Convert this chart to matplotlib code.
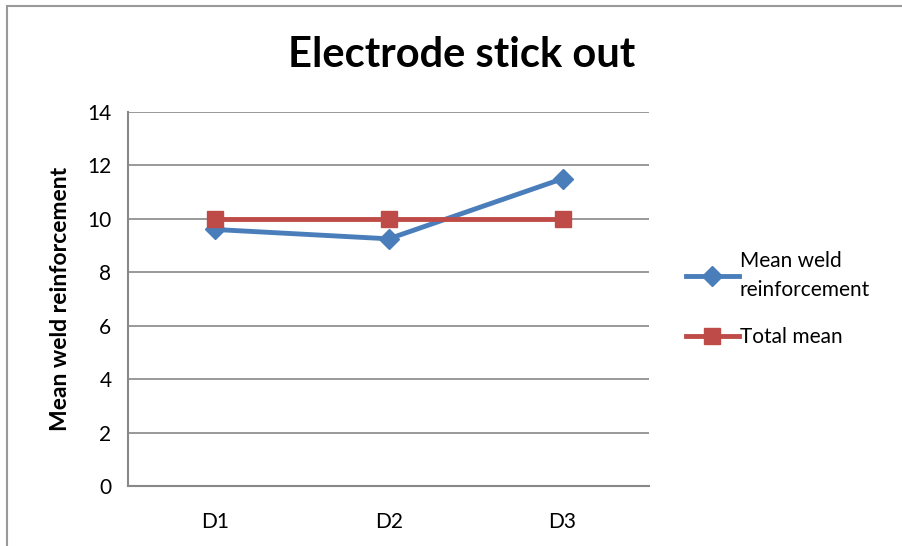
import matplotlib.pyplot as plt
from matplotlib.patches import Rectangle

plt.rcParams["font.family"] = ["Lato", "DejaVu Sans"]

categories = ["D1", "D2", "D3"]
mean_weld = [9.6, 9.25, 11.5]
total_mean = [10, 10, 10]
y_ticks = [0, 2, 4, 6, 8, 10, 12, 14]

blue = "#4a7ebb"
red = "#be4b48"
grid_gray = "#888888"

fig = plt.figure(figsize=(9.02, 5.46), dpi=100)
ax = fig.add_axes([0.142, 0.110, 0.578, 0.685])

x = list(range(len(categories)))
ax.plot(x, mean_weld, color=blue, lw=3.5, marker="D", ms=10,
        label="Mean weld\nreinforcement", zorder=3)
ax.plot(x, total_mean, color=red, lw=3.5, marker="s", ms=12,
        label="Total mean", zorder=3)

ax.set_xlim(-0.5, 2.5)
ax.set_ylim(0, 14)
ax.set_yticks(y_ticks)
ax.set_xticks(x)
ax.set_xticklabels(categories)
ax.tick_params(length=0, labelsize=15, pad=12)
ax.tick_params(axis="x", pad=19)
ax.yaxis.grid(True, color=grid_gray, lw=1.2)
ax.set_axisbelow(True)
for side in ["top", "right"]:
    ax.spines[side].set_visible(False)
for side in ["left", "bottom"]:
    ax.spines[side].set_color(grid_gray)
    ax.spines[side].set_linewidth(1.5)

ax.set_ylabel("Mean weld reinforcement", fontsize=16.5, fontweight="bold", labelpad=12)
fig.text(0.512, 0.90, "Electrode stick out", fontsize=30, fontweight="bold",
         ha="center", va="center")

leg = ax.legend(loc="center left", bbox_to_anchor=(1.035, 0.50), frameon=False,
                fontsize=15, handlelength=2.5, handletextpad=0.05, labelspacing=1.3)
for t in leg.get_texts():
    t.set_linespacing(1.55)

# outer chart frame
fig.patches.append(Rectangle((0.008, -0.1), 1.1, 1.089, transform=fig.transFigure,
                             fill=False, edgecolor="#999999", lw=1.5))

fig.savefig("out.png", dpi=100)
